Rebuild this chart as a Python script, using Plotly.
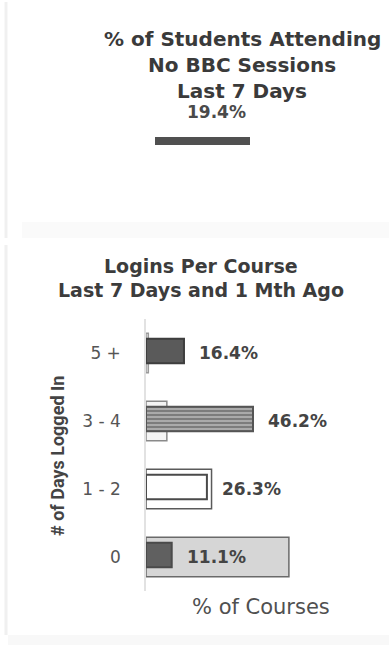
import plotly.graph_objects as go

W, H = 389, 645

# Logins per course, share of courses by number of days logged in
categories = ["0", "1 - 2", "3 - 4", "5 +"]
last_7_days = [11.1, 26.3, 46.2, 16.4]
one_month_ago = [61.7, 28.3, 9.0, 1.0]
value_labels = ["11.1%", "26.3%", "46.2%", "16.4%"]

# Students attending no BBC sessions in the last 7 days
no_bbc_pct = 19.4
no_bbc_label = "19.4%"

recent_fill = ["#606060", "#ffffff", "#7c7c7c", "#5a5a5a"]
recent_line = ["#4a4a4a", "#4a4a4a", "#555555", "#3e3e3e"]
prior_fill = ["#d6d6d6", "#ffffff", "#f4f4f4", "#ededed"]
prior_line = ["#6a6a6a", "#5a5a5a", "#8a8a8a", "#9a9a9a"]

HEAVY = "DejaVu Sans"


def px_x(p):
    return p / W


def px_y(p):
    return 1 - p / H


x0_px, x1_px = 146, 340
px_per_pct = 2.316
x_max = (x1_px - x0_px) / px_per_pct

fig = go.Figure()

fig.add_trace(go.Bar(
    y=categories, x=one_month_ago, orientation="h", name="1 Mth Ago",
    width=0.58, offset=-0.29,
    marker=dict(color=prior_fill, line=dict(color=prior_line, width=1.5)),
    xaxis="x", yaxis="y", hoverinfo="skip",
))
fig.add_trace(go.Bar(
    y=categories, x=last_7_days, orientation="h", name="Last 7 Days",
    width=0.36, offset=-0.15,
    marker=dict(
        color=recent_fill,
        line=dict(color=recent_line, width=2),
        pattern=dict(shape=["", "", "-", ""], fgcolor="#5c5c5c",
                     size=4, solidity=0.35),
    ),
    xaxis="x", yaxis="y", hoverinfo="skip",
))

# Thin progress bar for the attendance figure
fig.add_trace(go.Bar(
    y=["all"], x=[no_bbc_pct], orientation="h", width=1,
    marker=dict(color="#505050", line=dict(width=0)),
    xaxis="x2", yaxis="y2", hoverinfo="skip",
))

annotations = []
for cat, val, lab in zip(categories, last_7_days, value_labels):
    annotations.append(dict(
        x=val, y=cat, xref="x", yref="y", text=lab, showarrow=False,
        xanchor="left", yanchor="middle", xshift=13,
        font=dict(family=HEAVY, size=17, color="#444444", weight="bold"),
    ))

title_font = dict(family=HEAVY, size=20, color="#3a3a3a", weight="bold")
for text, yc in [("% of Students Attending", 39), ("No BBC Sessions", 65),
                 ("Last 7 Days", 91)]:
    annotations.append(dict(x=px_x(242), y=px_y(yc), xref="paper", yref="paper",
                            text=text, showarrow=False, xanchor="center",
                            yanchor="middle", font=title_font))
annotations.append(dict(x=px_x(217), y=px_y(112), xref="paper", yref="paper",
                        text=no_bbc_label, showarrow=False, xanchor="center",
                        yanchor="middle",
                        font=dict(family=HEAVY, size=17, color="#4a4a4a",
                                  weight="bold")))

sub_font = dict(family=HEAVY, size=19, color="#3c3c3c", weight="bold")
for text, yc in [("Logins Per Course", 266), ("Last 7 Days and 1 Mth Ago", 290)]:
    annotations.append(dict(x=px_x(201), y=px_y(yc), xref="paper", yref="paper",
                            text=text, showarrow=False, xanchor="center",
                            yanchor="middle", font=sub_font))

annotations.append(dict(x=px_x(57), y=px_y(456), xref="paper", yref="paper",
                        text="# of Days Logged In", showarrow=False, textangle=-90,
                        xanchor="center", yanchor="middle",
                        font=dict(family="Liberation Sans Narrow, Roboto", size=18,
                                  color="#444444", weight="bold")))
annotations.append(dict(x=px_x(261), y=px_y(607), xref="paper", yref="paper",
                        text="% of Courses", showarrow=False, xanchor="center",
                        yanchor="middle",
                        font=dict(family=HEAVY, size=21, color="#505050")))

# Faint panel borders
shapes = [
    dict(type="line", xref="paper", yref="paper", x0=px_x(6), x1=px_x(6),
         y0=px_y(2), y1=px_y(238), line=dict(color="#f0f0f0", width=3)),
    dict(type="rect", xref="paper", yref="paper", x0=px_x(22), x1=1,
         y0=px_y(238), y1=px_y(222), fillcolor="#fafafa", line=dict(width=0)),
    dict(type="line", xref="paper", yref="paper", x0=px_x(6), x1=px_x(6),
         y0=px_y(245), y1=px_y(635), line=dict(color="#f0f0f0", width=3)),
    dict(type="rect", xref="paper", yref="paper", x0=px_x(8), x1=1,
         y0=px_y(645), y1=px_y(635), fillcolor="#f8f8f8", line=dict(width=0)),
]

fig.update_layout(
    width=W, height=H,
    margin=dict(l=0, r=0, t=0, b=0),
    paper_bgcolor="white", plot_bgcolor="white",
    showlegend=False, barmode="overlay",
    annotations=annotations, shapes=shapes,
    xaxis=dict(domain=[px_x(x0_px), px_x(x1_px)], range=[0, x_max],
               showgrid=False, zeroline=False, showticklabels=False,
               showline=False, fixedrange=True),
    yaxis=dict(domain=[px_y(591), px_y(319)], type="category",
               categoryorder="array", categoryarray=categories,
               range=[-0.5, 3.5], showgrid=False, zeroline=False,
               showline=True, linecolor="#e2e2e2", linewidth=1.5,
               ticks="", ticklabelstandoff=20,
               tickfont=dict(family=HEAVY, size=17, color="#555555")),
    xaxis2=dict(domain=[px_x(155), px_x(250)], range=[0, no_bbc_pct],
                anchor="y2", showgrid=False, zeroline=False,
                showticklabels=False, showline=False),
    yaxis2=dict(domain=[px_y(145), px_y(137)], anchor="x2", range=[-0.5, 0.5],
                showgrid=False, zeroline=False, showticklabels=False,
                showline=False),
)

fig.write_html("out.html")
